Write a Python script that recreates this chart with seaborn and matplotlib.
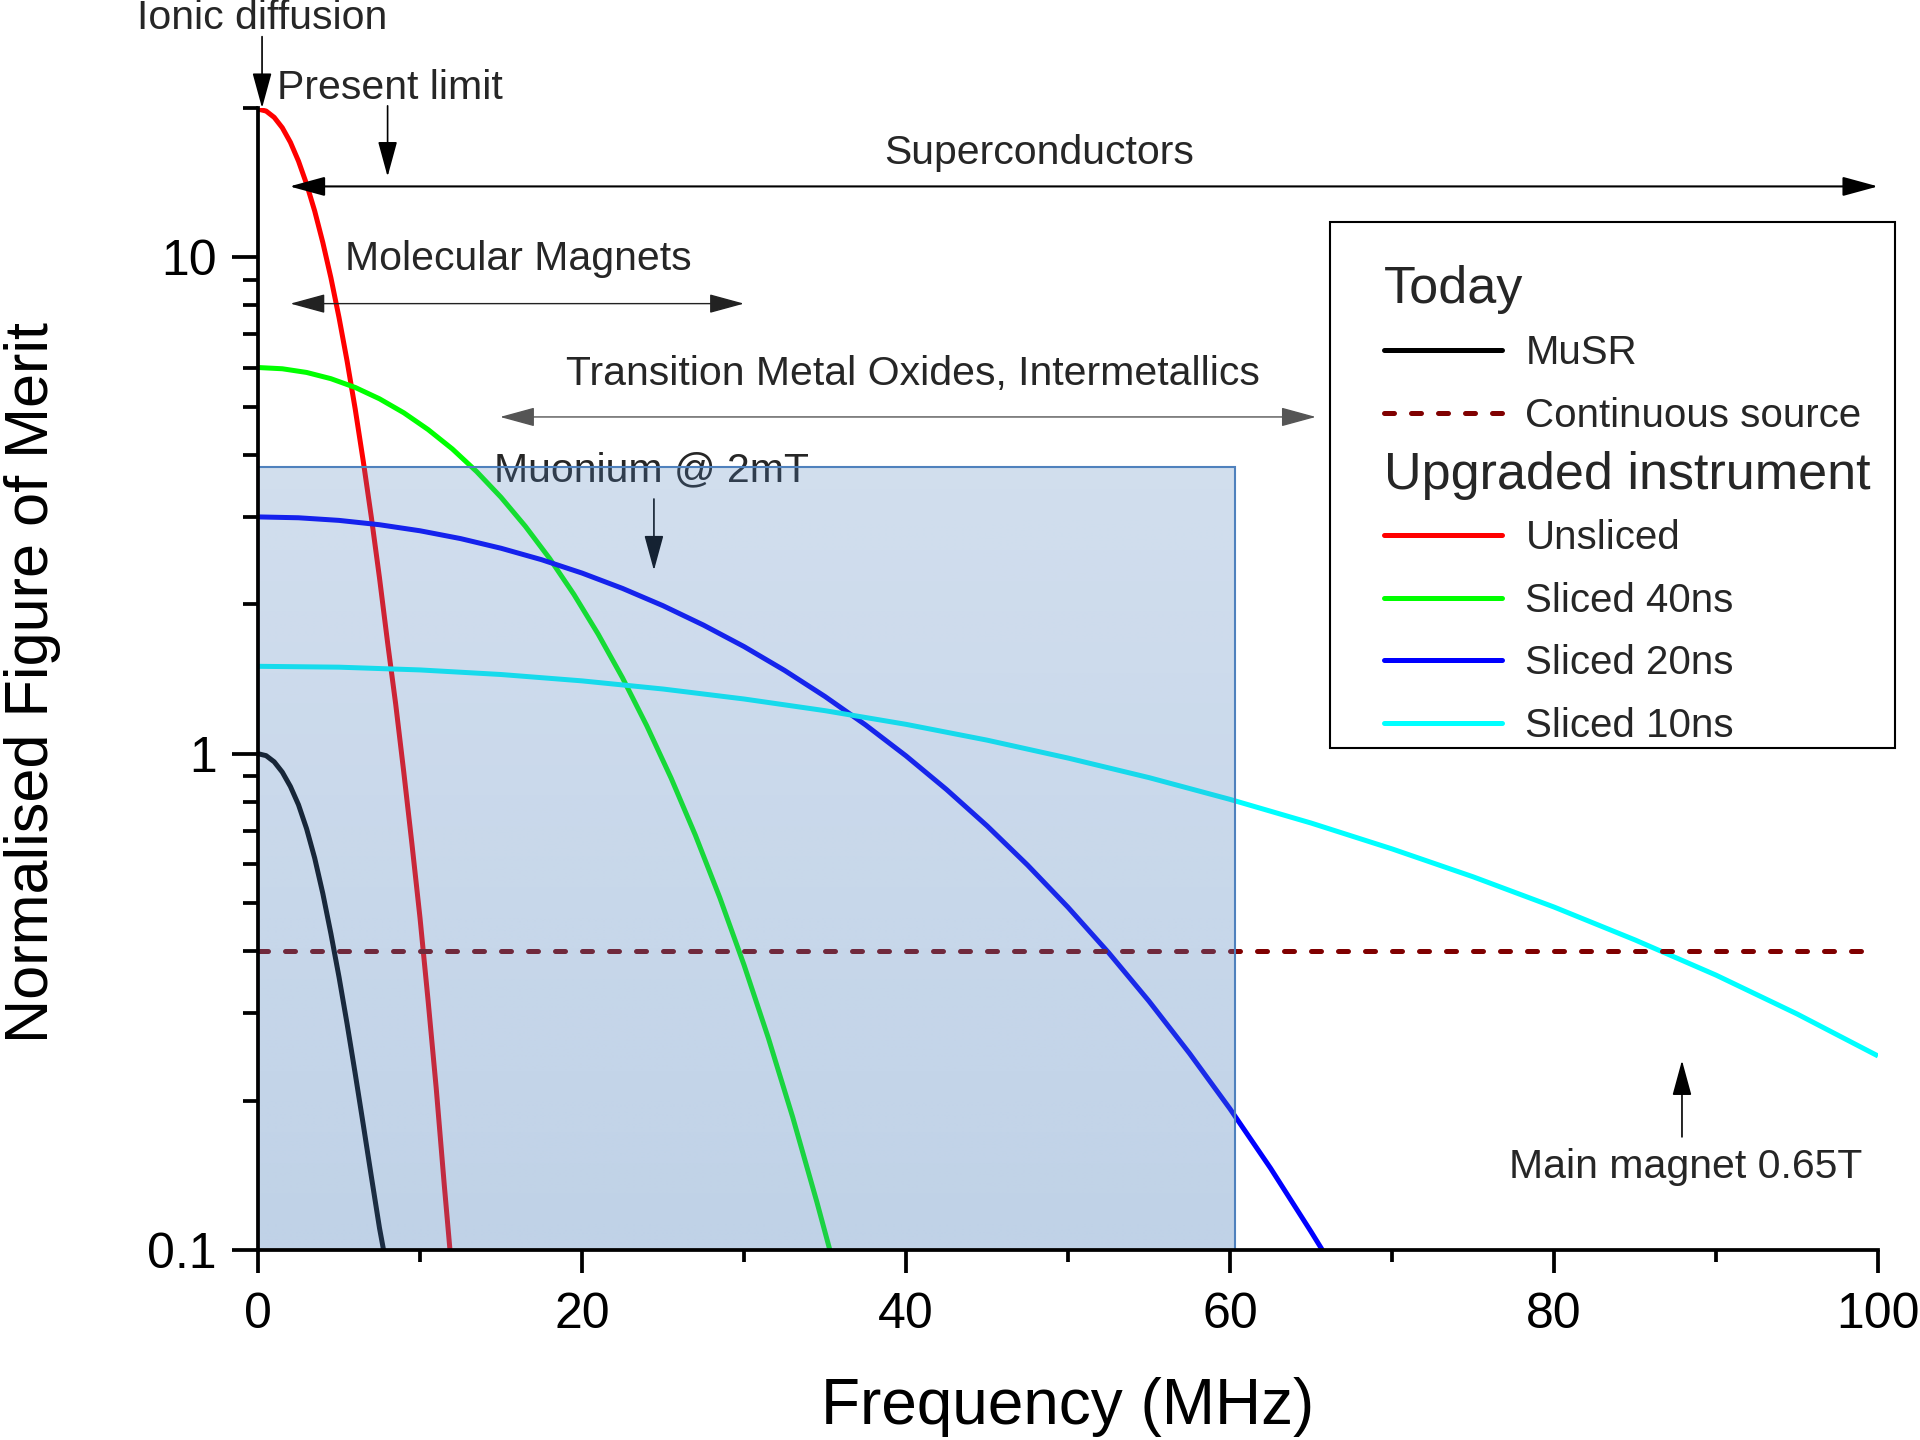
import numpy as np
import matplotlib
matplotlib.use("Agg")
import matplotlib.pyplot as plt
import seaborn as sns
from matplotlib.lines import Line2D
from matplotlib.patches import Rectangle
from matplotlib.transforms import Bbox

# ---------------- data ----------------
freq_musr = [0, 0.5, 1, 1.5, 2, 2.5, 3, 3.5, 4, 4.5, 5, 5.5, 6, 6.5, 7, 7.5, 7.75]
fom_musr = [1.0, 0.991, 0.963, 0.918, 0.859, 0.789, 0.706, 0.616, 0.523, 0.434, 0.355,
            0.2855, 0.2267, 0.1787, 0.1404, 0.1107, 0.10]

freq_unsliced = [0, 0.5, 1, 1.5, 2, 2.5, 3, 3.5, 4, 4.5, 5, 5.5, 6, 6.5, 7, 7.5, 8,
                 8.5, 9, 9.5, 10, 10.5, 11, 11.5, 11.85]
fom_unsliced = [19.9, 19.72, 19.15, 18.25, 17.06, 15.63, 14.05, 12.40, 10.72, 9.10, 7.57,
                6.18, 4.95, 3.88, 2.99, 2.26, 1.674, 1.258, 0.917, 0.659, 0.467, 0.318,
                0.212, 0.135, 0.10]

freq_40ns = [0, 1.5, 3, 4.5, 6, 7.5, 9, 10.5, 12, 13.5, 15, 16.5, 18, 19.5, 21, 22.5,
             24, 25.5, 27, 28.5, 30, 31.5, 33, 34.5, 35.3]
fom_40ns = [6.0, 5.965, 5.864, 5.697, 5.47, 5.189, 4.863, 4.499, 4.111, 3.701, 3.286, 2.873,
            2.474, 2.094, 1.741, 1.422, 1.138, 0.893, 0.685, 0.5135, 0.3754, 0.2676, 0.1855,
            0.1249, 0.10]

freq_20ns = [0, 2.5, 5, 7.5, 10, 12.5, 15, 17.5, 20, 22.5, 25, 27.5, 30, 32.5, 35, 37.5,
             40, 42.5, 45, 47.5, 50, 52.5, 55, 57.5, 60, 62.5, 65, 65.7]
fom_20ns = [3.0, 2.988, 2.952, 2.893, 2.813, 2.713, 2.594, 2.460, 2.312, 2.153, 1.987, 1.816,
            1.644, 1.472, 1.304, 1.143, 0.990, 0.847, 0.7157, 0.5966, 0.4904, 0.3975, 0.3172,
            0.2490, 0.1925, 0.1462, 0.1089, 0.10]

freq_10ns = [0, 5, 10, 15, 20, 25, 30, 35, 40, 45, 50, 55, 60, 65, 70, 75, 80, 85, 90, 95, 100]
fom_10ns = [1.50, 1.494, 1.475, 1.444, 1.402, 1.350, 1.289, 1.221, 1.146, 1.065, 0.980, 0.895,
            0.809, 0.725, 0.643, 0.565, 0.491, 0.4215, 0.358, 0.299, 0.246]

freq_cont = [0, 100]
fom_cont = [0.4, 0.4]

series_labels = ["MuSR", "Continuous source", "Unsliced", "Sliced 40ns", "Sliced 20ns", "Sliced 10ns"]
legend_headings = ["Today", "Upgraded instrument"]

x_major_ticks = [0, 20, 40, 60, 80, 100]
x_minor_ticks = [10, 30, 50, 70, 90]
y_major_ticks = [0.1, 1, 10]
y_major_labels = ["0.1", "1", "10"]
y_minor_ticks = [0.2, 0.3, 0.4, 0.5, 0.6, 0.7, 0.8, 0.9, 2, 3, 4, 5, 6, 7, 8, 9, 20]

# shaded region (frequency, figure of merit)
region_freq = (0, 60.3)
region_fom = (0.1, 3.79)

# ---------------- style ----------------
sns.set_style("ticks")
plt.rcParams["font.family"] = ["Liberation Sans", "DejaVu Sans"]

fig = plt.figure(figsize=(19.2, 14.4), dpi=100, facecolor="white")
ax = fig.add_axes([258 / 1920, 190 / 1440, 1620 / 1920, 1142 / 1440])
ax.set_facecolor("white")
ax.set_yscale("log")
ax.set_xlim(0, 100)
ax.set_ylim(0.1, 20)
ax.set_autoscale_on(False)

LW = 3.6
curve_specs = [
    (freq_musr, fom_musr, "#000000"),
    (freq_unsliced, fom_unsliced, "#FF0000"),
    (freq_40ns, fom_40ns, "#00FF00"),
    (freq_20ns, fom_20ns, "#0000FF"),
    (freq_10ns, fom_10ns, "#00FFFF"),
]
for fx, fy, col in curve_specs:
    sns.lineplot(x=fx, y=fy, color=col, lw=LW, ax=ax, legend=False, zorder=2,
                 solid_capstyle="butt", solid_joinstyle="round")

dash_style = (0, (2.0, 3.4))
sns.lineplot(x=freq_cont, y=fom_cont, color="#800000", lw=LW, ax=ax, legend=False,
             zorder=2, linestyle=dash_style, dash_capstyle="round")

# ---------------- shaded region with vertical gradient ----------------
to_axes = ax.transData + ax.transAxes.inverted()
(ax0, ay0) = to_axes.transform((region_freq[0], region_fom[0]))
(ax1, ay1) = to_axes.transform((region_freq[1], region_fom[1]))
n = 256
alpha_col = np.linspace(0.26, 0.36, n)[:, None]  # top -> bottom
base = np.array([79, 129, 189]) / 255.0
img = np.zeros((n, 2, 4))
img[..., :3] = base
img[..., 3] = alpha_col
ax.imshow(img, extent=[ax0, ax1, ay0, ay1], transform=ax.transAxes, aspect="auto",
          origin="upper", interpolation="bilinear", zorder=4)
ax.add_patch(Rectangle((region_freq[0], region_fom[0]), region_freq[1] - region_freq[0],
                       region_fom[1] - region_fom[0], fill=False, edgecolor="#4F81BD",
                       lw=1.5, zorder=4))

ax.set_xlim(0, 100)
ax.set_ylim(0.1, 20)

# ---------------- axes, ticks ----------------
for s in ["top", "right"]:
    ax.spines[s].set_visible(False)
for s in ["left", "bottom"]:
    ax.spines[s].set_linewidth(2.7)
    ax.spines[s].set_color("black")
    ax.spines[s].set_zorder(5)

ax.set_xticks(x_major_ticks)
ax.set_xticks(x_minor_ticks, minor=True)
ax.set_xticklabels([str(v) for v in x_major_ticks])
ax.set_yticks(y_major_ticks)
ax.set_yticklabels(y_major_labels)
ax.set_yticks(y_minor_ticks, minor=True)
ax.yaxis.set_minor_formatter(matplotlib.ticker.NullFormatter())

ax.tick_params(axis="x", which="major", direction="out", length=16.5, width=2.7,
               color="black", labelcolor="black", labelsize=36, pad=14)
ax.tick_params(axis="x", which="minor", direction="out", length=8.5, width=2.7, color="black")
ax.tick_params(axis="y", which="major", direction="out", length=18.5, width=2.7,
               color="black", labelcolor="black", labelsize=36, pad=11)
ax.tick_params(axis="y", which="minor", direction="out", length=10.5, width=2.7, color="black")

ax.set_xlabel("Frequency (MHz)", fontsize=46, color="black")
ax.xaxis.set_label_coords(0.5, -0.1378)
ax.xaxis.label.set_verticalalignment("center")
ax.set_ylabel("Normalised Figure of Merit", fontsize=44, color="black")
ax.yaxis.set_label_coords(-0.1395, 0.497)
ax.yaxis.label.set_verticalalignment("center")

# ---------------- annotations ----------------
FS = 29.5
def arrow(x0, y0, x1, y1, style="-|>", lw=1.2, color="black", z=6):
    ax.annotate("", xy=(x1, y1), xytext=(x0, y0), annotation_clip=False, zorder=z,
                arrowprops=dict(arrowstyle=style + ",head_length=1.1,head_width=0.3",
                                mutation_scale=20, lw=lw, color=color,
                                shrinkA=0, shrinkB=0))

ax.text(0.25, 28.9, "Ionic diffusion", fontsize=FS, ha="center", va="baseline", clip_on=False)
arrow(0.25, 27.85, 0.25, 20.0, lw=1.2)

ax.text(1.15, 20.9, "Present limit", fontsize=FS, ha="left", va="baseline", clip_on=False)
arrow(8.0, 20.2, 8.0, 14.55, lw=1.2)

ax.text(48.2, 15.4, "Superconductors", fontsize=FS, ha="center", va="baseline")
arrow(1.95, 13.9, 100, 13.9, style="<|-|>", lw=1.5)

ax.text(5.39, 9.45, "Molecular Magnets", fontsize=FS, ha="left", va="baseline")
arrow(2.0, 8.07, 30.0, 8.07, style="<|-|>", lw=1.0, color="#222222")

ax.text(18.99, 5.54, "Transition Metal Oxides, Intermetallics", fontsize=FS, ha="left", va="baseline")
arrow(14.94, 4.77, 65.3, 4.77, style="<|-|>", lw=1.0, color="#555555")

ax.text(14.54, 3.53, "Muonium @ 2mT", fontsize=FS, ha="left", va="baseline", zorder=3)
arrow(24.44, 3.26, 24.44, 2.34, lw=1.2, z=3)

ax.text(77.25, 0.1398, "Main magnet 0.65T", fontsize=FS, ha="left", va="baseline")
arrow(87.9, 0.169, 87.9, 0.241, lw=1.2)

# ---------------- legend ----------------
ax.add_patch(Rectangle((1330 / 1920, 1 - 748 / 1440), 565 / 1920, 526 / 1440,
                       transform=fig.transFigure, facecolor="white", edgecolor="black",
                       lw=1.5, zorder=6, clip_on=False))

handles = [
    Line2D([], [], linestyle="none"),
    Line2D([], [], color="#000000", lw=LW, solid_capstyle="round"),
    Line2D([], [], color="#800000", lw=LW, linestyle=dash_style, dash_capstyle="round"),
    Line2D([], [], linestyle="none"),
    Line2D([], [], color="#FF0000", lw=LW, solid_capstyle="round"),
    Line2D([], [], color="#00FF00", lw=LW, solid_capstyle="round"),
    Line2D([], [], color="#0000FF", lw=LW, solid_capstyle="round"),
    Line2D([], [], color="#00FFFF", lw=LW, solid_capstyle="round"),
]
labels = [legend_headings[0], series_labels[0], series_labels[1], legend_headings[1]] + series_labels[2:]
leg = ax.legend(handles, labels, loc="upper left",
                bbox_to_anchor=(1383.6 / 1920, 1 - 265.5 / 1440), bbox_transform=fig.transFigure,
                frameon=False, fontsize=29, handlelength=2.95, handletextpad=0.57,
                labelspacing=0.61, borderpad=0, borderaxespad=0)
leg.set_zorder(7)


def trim_box(box, top, bottom):
    orig = box.get_bbox

    def new_bbox(renderer):
        b = orig(renderer)
        return Bbox.from_extents(b.x0, b.y0 + bottom, b.x1, b.y1 - top)

    box.get_bbox = new_bbox


heading_trims = {"Today": (0.0, 5.0), "Upgraded instrument": (8.6, 5.0)}
column = leg._legend_handle_box.get_children()[0]
for row in column.get_children():
    hbox, tbox = row.get_children()
    name = tbox.get_text()
    if name in legend_headings:
        tbox._text.set_fontsize(37.5)
        hbox.width = 0
        row.sep = 0
        trim_box(tbox, *heading_trims[name])

fig.savefig("out.png", dpi=100, facecolor="white")
